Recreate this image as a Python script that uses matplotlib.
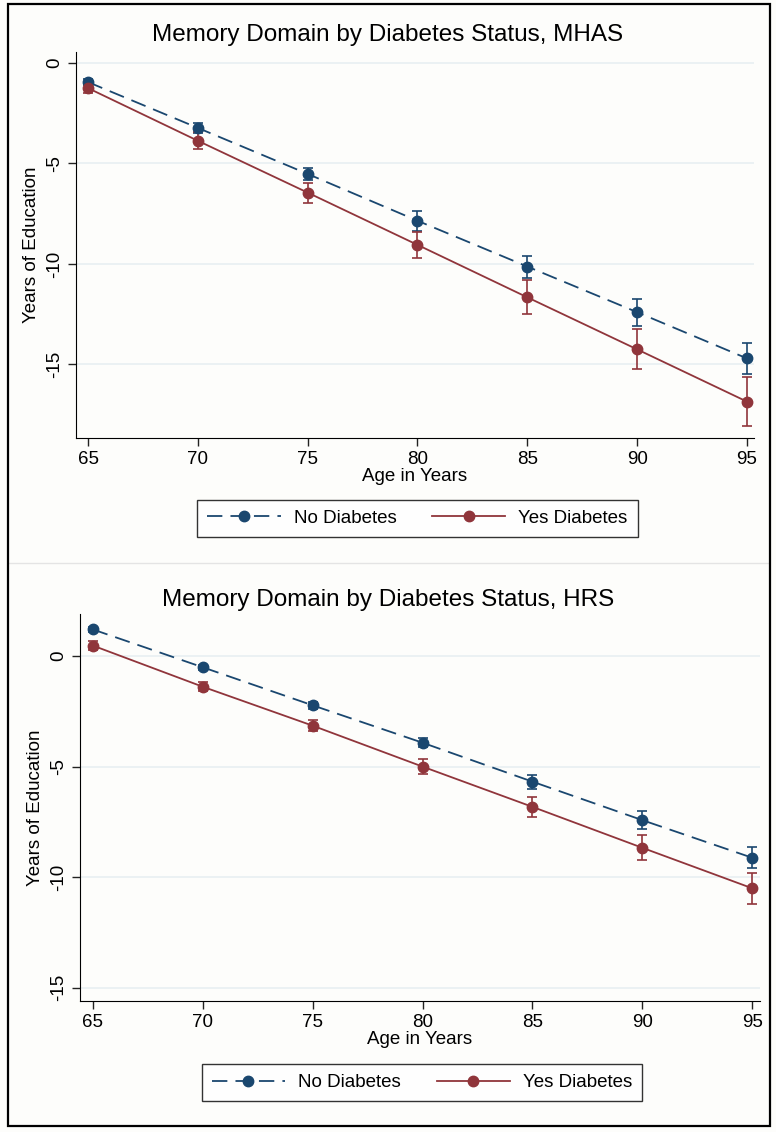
import matplotlib.pyplot as plt
from matplotlib.patches import Rectangle
from matplotlib.lines import Line2D

plt.rcParams['font.family'] = ['Liberation Sans', 'DejaVu Sans']

# Ages (x axis)
ages = [65, 70, 75, 80, 85, 90, 95]

# MHAS panel
mhas_no = [-0.95, -3.23, -5.52, -7.85, -10.13, -12.4, -14.7]
mhas_no_err = [0.15, 0.25, 0.3, 0.5, 0.55, 0.67, 0.77]
mhas_yes = [-1.25, -3.87, -6.45, -9.05, -11.66, -14.25, -16.85]
mhas_yes_err = [0.25, 0.43, 0.5, 0.66, 0.85, 1.0, 1.2]

# HRS panel
hrs_no = [1.2, -0.51, -2.23, -3.92, -5.68, -7.42, -9.12]
hrs_no_err = [0.1, 0.12, 0.15, 0.2, 0.32, 0.4, 0.48]
hrs_yes = [0.47, -1.39, -3.15, -5.0, -6.82, -8.67, -10.5]
hrs_yes_err = [0.2, 0.2, 0.25, 0.35, 0.45, 0.57, 0.7]

BLEU = "#1a476f"
ROUGE = "#90353b"
GRILLE = "#e8eff2"
TIRETS = (8.5, 4.5)
TAILLE = 13.5


def panneau(ax, non, non_err, oui, oui_err, ylim, xlim, yticks):
    # Lignes + barres d'erreur
    ax.errorbar(ages, non, yerr=non_err, color=BLEU, lw=1.3, marker="o", ms=7.5,
                capsize=3.5, elinewidth=1.2, capthick=1.2, dashes=TIRETS, zorder=3)
    ax.errorbar(ages, oui, yerr=oui_err, color=ROUGE, lw=1.3, marker="o", ms=7.5,
                capsize=3.5, elinewidth=1.2, capthick=1.2, zorder=3)
    ax.set_xlim(*xlim)
    ax.set_ylim(*ylim)
    ax.set_xticks(ages)
    ax.set_yticks(yticks)
    ax.set_yticklabels([str(t) for t in yticks], rotation=90, va="center")
    for t in yticks:
        ax.axhline(t, color=GRILLE, lw=1.2, zorder=0)
    ax.tick_params(labelsize=TAILLE, length=6, width=1, color="#222222")
    ax.spines["top"].set_visible(False)
    ax.spines["right"].set_visible(False)
    ax.set_facecolor("none")
    ax.set_xlabel("Age in Years", fontsize=TAILLE, labelpad=0)
    ax.set_ylabel("Years of Education", fontsize=TAILLE, labelpad=4)


def legende(ax, cx, cy):
    # Légende sans barres d'erreur, comme dans Stata
    poignees = [
        Line2D([], [], color=BLEU, lw=1.3, marker="o", ms=7.5, dashes=TIRETS),
        Line2D([], [], color=ROUGE, lw=1.3, marker="o", ms=7.5),
    ]
    leg = ax.legend(poignees, ["No Diabetes", "Yes Diabetes"], loc="center",
                    bbox_to_anchor=(cx / 776, 1 - cy / 1132),
                    bbox_transform=fig.transFigure, ncol=2, fontsize=TAILLE,
                    frameon=True, fancybox=False, edgecolor="black",
                    handlelength=3.9, handletextpad=0.7, columnspacing=1.9,
                    borderpad=0.55)
    leg.get_frame().set_linewidth(1.0)


fig = plt.figure(figsize=(7.76, 11.32), dpi=100, facecolor="#fdfdfb")

ax1 = fig.add_axes([0.0979, 0.6131, 0.8737, 0.3410])
panneau(ax1, mhas_no, mhas_no_err, mhas_yes, mhas_yes_err,
        (-18.66, 0.55), (64.45, 95.32), [0, -5, -10, -15])
fig.text(388 / 776, 1 - 35 / 1132, "Memory Domain by Diabetes Status, MHAS",
         ha="center", va="center", fontsize=17.5)
legende(ax1, 417.5, 518.5)

ax2 = fig.add_axes([0.1031, 0.1157, 0.8763, 0.3419])
panneau(ax2, hrs_no, hrs_no_err, hrs_yes, hrs_yes_err,
        (-15.6, 1.9), (64.41, 95.36), [0, -5, -10, -15])
fig.text(388 / 776, 1 - 600 / 1132, "Memory Domain by Diabetes Status, HRS",
         ha="center", va="center", fontsize=17.5)
legende(ax2, 422, 1082.5)

# Séparateur et cadre extérieur
fig.add_artist(Line2D([9 / 776, 769 / 776], [1 - 563 / 1132] * 2,
                      color="#e4e4e4", lw=1, zorder=1))
fig.add_artist(Rectangle((8 / 776, 1 - 1126 / 1132), 762 / 776, 1122 / 1132,
                         fill=False, edgecolor="black", lw=1.6, zorder=5))

fig.savefig("out.png", dpi=100, facecolor=fig.get_facecolor())
